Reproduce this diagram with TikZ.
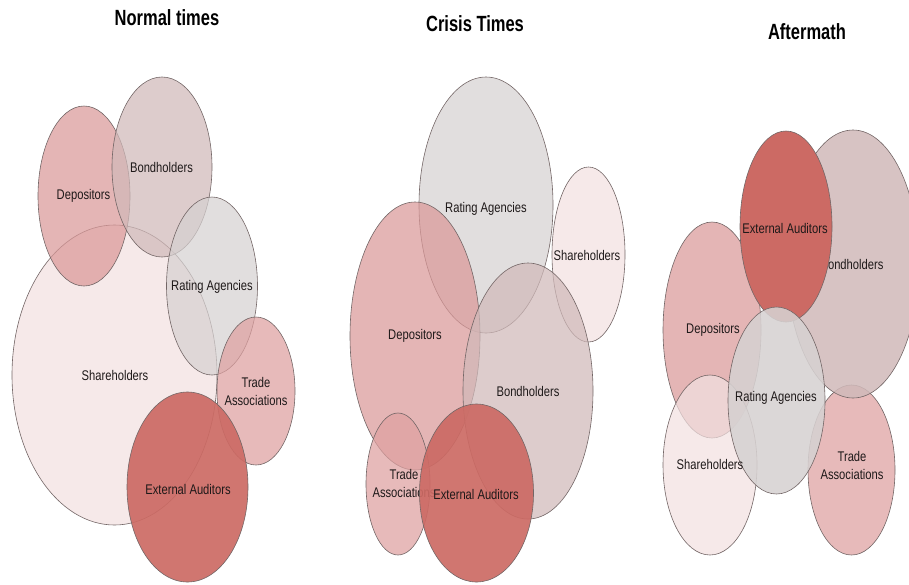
\documentclass[tikz,border=0pt]{standalone}
\usepackage{fontspec}
\setmainfont{Liberation Sans}[FakeStretch=0.8]
\newfontfamily\titlefont{Liberation Sans}[FakeStretch=0.75]
\usetikzlibrary{shapes.geometric}
\definecolor{eaF}{RGB}{204,106,100}
\definecolor{depF}{RGB}{218,152,152}
\definecolor{taF}{RGB}{222,160,160}
\definecolor{bondF}{RGB}{208,185,185}
\definecolor{raF}{RGB}{214,209,209}
\definecolor{shF}{RGB}{242,224,224}
\definecolor{lineC}{RGB}{115,102,102}
\definecolor{txtC}{RGB}{30,25,25}
\tikzset{
  ell/.style={draw=lineC, line width=0.6pt, ellipse, inner sep=0pt, fill opacity=0.72},
  eabox/.style={ell, fill=eaF, fill opacity=0.92},
  lbl/.style={font=\fontsize{14}{18}\selectfont, text=txtC, align=center, inner sep=0pt},
  ttl/.style={font=\titlefont\bfseries\fontsize{22}{26}\selectfont, text=black, inner sep=0pt}
}
\newcommand{\ellnode}[6]{% style, name, x, y, rx, ry
  \node[#1, minimum width=#5*2pt, minimum height=#6*2pt] (#2) at (#3,#4) {};}
\begin{document}
\begin{tikzpicture}[x=1pt,y=-1pt]
\useasboundingbox (0,0) rectangle (909,584);
% ---------- Normal times ----------
\node[ttl] (t1) at (167,18) {Normal times};
\ellnode{ell, fill=shF}{sh1}{114.5}{375}{102.5}{150}
\ellnode{ell, fill=depF}{dep1}{84}{196}{46}{90}
\ellnode{ell, fill=bondF}{bond1}{162}{167}{50}{90}
\ellnode{ell, fill=raF}{ra1}{212}{286}{45.5}{89}
\ellnode{ell, fill=taF}{ta1}{256}{391}{39}{74}
\ellnode{eabox}{ea1}{187.5}{487}{60.5}{95}
\node[lbl] (lsh1) at (115,375) {Shareholders};
\node[lbl] (ldep1) at (83.5,196) {Depositors};
\node[lbl] (lbond1) at (161.5,167) {Bondholders};
\node[lbl] (lra1) at (212,287) {Rating Agencies};
\node[lbl] (lta1) at (256,391) {Trade\\Associations};
\node[lbl] (lea1) at (188,489) {External Auditors};
% ---------- Crisis Times ----------
\node[ttl] (t2) at (475,24) {Crisis Times};
\ellnode{ell, fill=raF}{ra2}{486}{205}{67}{128}
\ellnode{ell, fill=shF}{sh2}{588.5}{254.5}{36.5}{87.5}
\ellnode{ell, fill=depF}{dep2}{415}{336}{65}{134}
\ellnode{ell, fill=bondF}{bond2}{528}{391}{65}{128}
\ellnode{ell, fill=taF}{ta2}{398}{484}{32}{71}
\node[lbl] (lta2) at (404,483) {Trade\\Associations};
\ellnode{eabox}{ea2}{476.5}{493}{57}{89}
\node[lbl] (lra2) at (486,209) {Rating Agencies};
\node[lbl] (lsh2) at (587,255) {Shareholders};
\node[lbl] (ldep2) at (415,336) {Depositors};
\node[lbl] (lbond2) at (528,391) {Bondholders};
\node[lbl] (lea2) at (476,494) {External Auditors};
% ---------- Aftermath ----------
\node[ttl] (t3) at (807,32) {Aftermath};
\ellnode{ell, fill=depF}{dep3}{712}{330}{49}{108}
\ellnode{ell, fill=shF}{sh3}{710}{465}{47}{90}
\ellnode{ell, fill=taF}{ta3}{851.5}{470}{43.5}{85}
\ellnode{ell, fill=bondF, fill opacity=0.85}{bond3}{853}{264}{66}{134}
\node[lbl] (lbond3) at (852,264) {Bondholders};
\ellnode{eabox, fill opacity=1}{ea3}{786}{226.5}{46}{95.5}
\ellnode{ell, fill=raF, fill opacity=0.88}{ra3}{776.5}{400.5}{48.5}{93.5}
\node[lbl] (ldep3) at (713,330) {Depositors};
\node[lbl] (lsh3) at (710,464) {Shareholders};
\node[lbl] (lta3) at (852,465) {Trade\\Associations};
\node[lbl] (lea3) at (785,228) {External Auditors};
\node[lbl] (lra3) at (776,398) {Rating Agencies};
\end{tikzpicture}
\end{document}
